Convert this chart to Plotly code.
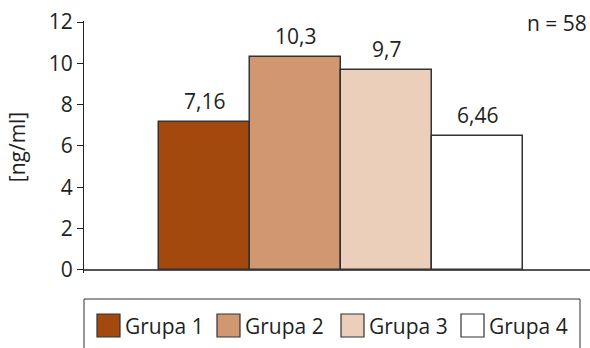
import plotly.graph_objects as go

groups = ["Grupa 1", "Grupa 2", "Grupa 3", "Grupa 4"]
values = [7.16, 10.3, 9.7, 6.46]
labels = ["7,16", "10,3", "9,7", "6,46"]
colors = ["#A3490D", "#D19771", "#EBCFBB", "#FFFFFF"]
y_ticks = [0, 2, 4, 6, 8, 10, 12]
n_label = "n = 58"

W, H = 590, 348
L, R, T, B = 84, 0, 21, 75
pw, ph = W - L - R, H - T - B

FONT = "Open Sans"
FS = 21
TXT = "#231F20"

fig = go.Figure()
fig.add_trace(go.Bar(
    x=groups, y=values,
    marker=dict(color=colors, line=dict(color="#333333", width=1.5)),
    showlegend=False, hoverinfo="skip",
))

def px2x(px):
    return (px - L) / pw

def py2y(py):
    return (H - B - py) / ph

shapes = []
annotations = []
for g, v, lab in zip(groups, values, labels):
    annotations.append(dict(xref="x", yref="y", x=g, y=v, text=lab, showarrow=False,
                            xanchor="center", yanchor="middle", yshift=21,
                            font=dict(family=FONT, size=FS, color=TXT)))
# legend box
shapes.append(dict(type="rect", xref="paper", yref="paper",
                   x0=px2x(84), x1=px2x(580), y0=py2y(352), y1=py2y(299),
                   line=dict(color="#333333", width=1), fillcolor="rgba(0,0,0,0)"))
sw_x = [97, 217, 341, 461]
for g, c, sx in zip(groups, colors, sw_x):
    shapes.append(dict(type="rect", xref="paper", yref="paper",
                       x0=px2x(sx), x1=px2x(sx + 23), y0=py2y(337), y1=py2y(314),
                       line=dict(color="#333333", width=1.2), fillcolor=c))
    annotations.append(dict(xref="paper", yref="paper", x=px2x(sx + 26), y=py2y(326),
                            xanchor="left", yanchor="middle", text=g, showarrow=False,
                            font=dict(family=FONT, size=FS, color=TXT)))
annotations.append(dict(xref="paper", yref="paper", x=px2x(589), y=py2y(23),
                        xanchor="right", yanchor="middle", text=n_label, showarrow=False,
                        font=dict(family=FONT, size=FS, color=TXT)))

fig.update_layout(
    width=W, height=H,
    margin=dict(l=L, r=R, t=T, b=B),
    paper_bgcolor="white", plot_bgcolor="white",
    bargap=0,
    shapes=shapes, annotations=annotations,
    font=dict(family=FONT, size=FS, color=TXT),
    xaxis=dict(range=[-1.324, 4.236], showticklabels=False, showline=False,
               showgrid=False, zeroline=False, ticks=""),
    yaxis=dict(range=[-0.15, 12.05], tickvals=y_ticks, ticktext=[str(t) for t in y_ticks],
               showgrid=False, zeroline=True, zerolinecolor="#555555", zerolinewidth=1.5,
               showline=True, linecolor="#222222", linewidth=1.2,
               ticks="outside", ticklen=6, tickcolor="#222222", tickwidth=1.2,
               tickfont=dict(family=FONT, size=FS, color=TXT),
               title=dict(text="[ng/ml]", standoff=17, font=dict(family=FONT, size=FS, color=TXT))),
)

fig.write_html("out.html")
